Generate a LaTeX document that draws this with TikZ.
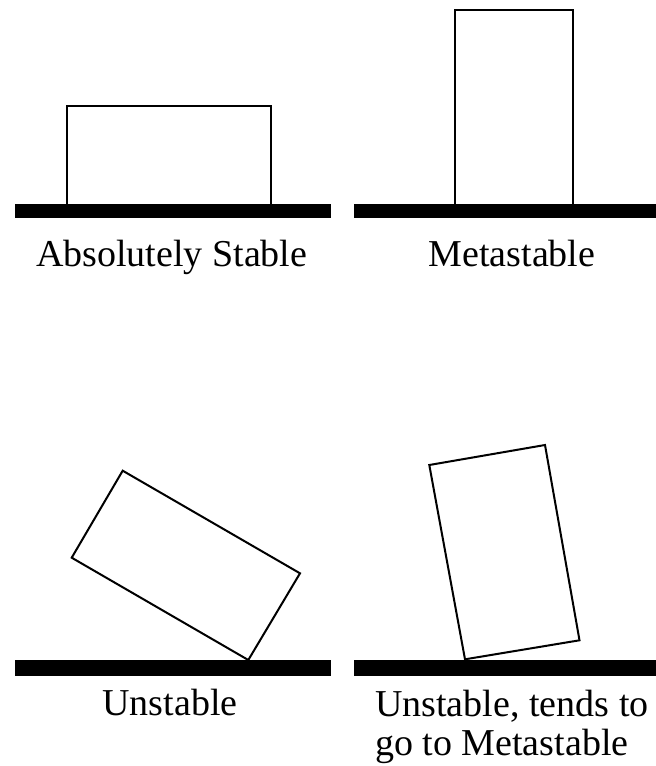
\documentclass[tikz,border=0pt]{standalone}
\usepackage{fontspec}
\setmainfont{Liberation Serif}
\begin{document}
\begin{tikzpicture}[x=1pt,y=-1pt,
  block/.style={draw=black,line width=2pt,line join=miter,fill=white},
  ground/.style={fill=black,draw=none},
  caption/.style={font=\fontsize{38}{39}\selectfont,inner sep=0pt}]
\useasboundingbox (0,0) rectangle (656,766);
% top left: absolutely stable
\draw[block] (66.7,205) -- (66.7,105.7) -- (271,105.7) -- (271,205);
\fill[ground] (15,204) rectangle (331,218);
\node[caption,anchor=base] (abs) at (171.7,266.7) {Absolutely Stable};
% top right: metastable
\draw[block] (455,204) -- (455,10) -- (573.3,10) -- (573.3,204);
\fill[ground] (354,204) rectangle (656,218);
\node[caption,anchor=base] (meta) at (512,266) {Metastable};
% bottom left: unstable
\draw[block] (248.3,660) -- (300,573.3) -- (122.7,470.7) -- (71.7,557.7) -- cycle;
\fill[ground] (15,660) rectangle (331,676);
\node[caption,anchor=base] (unst) at (170,715) {Unstable};
% bottom right: unstable, tends to metastable
\draw[block] (465,659.3) -- (579.5,640.3) -- (545,445) -- (429.3,465) -- cycle;
\fill[ground] (354,660) rectangle (656,676);
\node[caption,anchor=base west,align=left] (tend) at (375,755) {Unstable, tends to\\go to Metastable};
\end{tikzpicture}
\end{document}
